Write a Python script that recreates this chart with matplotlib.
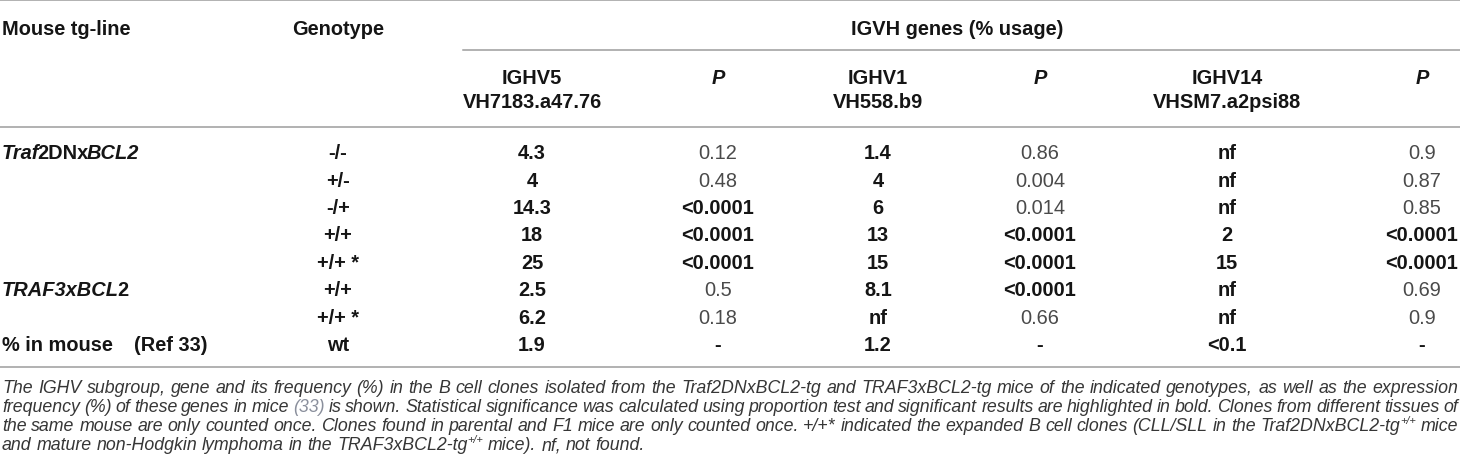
import re
import matplotlib
matplotlib.use("Agg")
import matplotlib.pyplot as plt

# table contents
mouse_lines = ["_Traf_2DNx_BCL2_", "", "", "", "", "_TRAF3xBCL_2", "", "% in mouse"]
genotypes = ["-/-", "+/-", "-/+", "+/+", "+/+ *", "+/+", "+/+ *", "wt"]
ighv5 = ["4.3", "4", "14.3", "18", "25", "2.5", "6.2", "1.9"]
p_ighv5 = ["0.12", "0.48", "<0.0001", "<0.0001", "<0.0001", "0.5", "0.18", "-"]
ighv1 = ["1.4", "4", "6", "13", "15", "8.1", "nf", "1.2"]
p_ighv1 = ["0.86", "0.004", "0.014", "<0.0001", "<0.0001", "<0.0001", "0.66", "-"]
ighv14 = ["nf", "nf", "nf", "2", "15", "nf", "nf", "<0.1"]
p_ighv14 = ["0.9", "0.87", "0.85", "<0.0001", "<0.0001", "0.69", "0.9", "-"]

gene_headers = [("IGHV5", "VH7183.a47.76"), ("IGHV1", "VH558.b9"), ("IGHV14", "VHSM7.a2psi88")]

caption = [
    "The IGHV subgroup, gene and its frequency (%) in the B cell clones isolated from the Traf2DNxBCL2-tg and TRAF3xBCL2-tg mice of the indicated genotypes, as well as the expression",
    "frequency (%) of these genes in mice [(33)] is shown. Statistical significance was calculated using proportion test and significant results are highlighted in bold. Clones from different tissues of",
    "the same mouse are only counted once. Clones found in parental and F1 mice are only counted once. +/+* indicated the expanded B cell clones (CLL/SLL in the Traf2DNxBCL2-tg^{+/+} mice",
    "and mature non-Hodgkin lymphoma in the TRAF3xBCL2-tg^{+/+} mice). nf, not found.",
]

W, H = 1460, 477
FONT = "Liberation Sans"
CAP_FONT = ["Liberation Sans Narrow", "Liberation Sans"]
PT = 72 / 100  # points per pixel at dpi 100
BLACK = "#151515"
LIGHT = "#4a4a4a"
CAP_COLOR = "#363636"

fig = plt.figure(figsize=(W / 100, H / 100), dpi=100)
ax = fig.add_axes([0, 0, 1, 1])
ax.set_xlim(0, W)
ax.set_ylim(H, 0)
ax.axis("off")
renderer = fig.canvas.get_renderer()


def put_runs(x, y, runs, ha="left", family=FONT):
    # runs: (text, size_px, weight, style, color, rise_px)
    objs = []
    cx = x
    for txt, size, weight, style, color, rise in runs:
        t = ax.text(cx, y - rise, txt, fontsize=size * PT, fontweight=weight,
                    fontstyle=style, color=color, family=family, va="baseline", ha="left")
        objs.append(t)
        cx += t.get_window_extent(renderer).width
    total = cx - x
    shift = {"left": 0, "center": -total / 2, "right": -total}[ha]
    for t in objs:
        px, py = t.get_position()
        t.set_position((px + shift, py))
    return objs, total


def base(yc, size=20):
    return yc + 0.36 * size


def cell(x, yc, txt, bold=True, italic=False, ha="center", color=None, size=20):
    c = color or (BLACK if bold else LIGHT)
    put_runs(x, base(yc, size), [(txt, size, "bold" if bold else "normal",
                                  "italic" if italic else "normal", c, 0)], ha=ha)


# horizontal rules
rule = dict(color="#9a9a9a", lw=1.5 * PT)
ax.plot([0, W], [1, 1], **rule)
ax.plot([463, W], [51, 51], **rule)
ax.plot([0, W], [128, 128], **rule)
ax.plot([0, W], [368, 368], **rule)

# headers
cell(2, 28, "Mouse tg-line", ha="left")
geno_x = 338
cell(geno_x, 28, "Genotype")
cell(957, 28, "IGVH genes (% usage)")

gene_x = [532, 878, 1227]
p_x = [718, 1040, 1422]
for gx, px, (h1, h2) in zip(gene_x, p_x, gene_headers):
    cell(gx, 77, h1)
    cell(gx, 101, h2)
    cell(px, 77, "P", italic=True)

# body rows
row0, step = 152, 27.4
for i in range(len(genotypes)):
    yc = row0 + i * step
    lab = mouse_lines[i]
    if lab:
        parts = lab.split("_")
        runs = []
        for k, seg in enumerate(parts):
            if seg:
                runs.append((seg, 20, "bold", "italic" if k % 2 == 1 else "normal", BLACK, 0))
        objs, _ = put_runs(2, base(yc), runs)
        # pull the upright parts in a little; italic boxes carry extra overhang
        for k, t in enumerate(objs[1:], start=1):
            px, py = t.get_position()
            t.set_position((px - 2 * k, py))
    if i == len(genotypes) - 1:
        cell(134, yc, "(Ref 33)", ha="left")
    cell(geno_x, yc, genotypes[i])
    for gx, px, vals, pvals in zip(gene_x, p_x, [ighv5, ighv1, ighv14],
                                   [p_ighv5, p_ighv1, p_ighv14]):
        cell(gx, yc, vals[i])
        pv = pvals[i]
        cell(px, yc, pv, bold=pv.startswith("<") or pv == "-")

# caption, justified to the table width
cap_size = 16
cap_y = [388, 407, 426, 445]
left, right = 2, 1458
token = re.compile(r"\^\{(.*?)\}|\[(.*?)\]|([^\^\[]+)")


def word_runs(word, size):
    runs = []
    for sup, grey, plain in token.findall(word):
        if sup:
            runs.append((sup, size * 0.62, "normal", "italic", CAP_COLOR, size * 0.42))
        elif grey:
            runs.append((grey, size, "normal", "italic", "#8a8f9c", 0))
        else:
            runs.append((plain, size, "normal", "italic", CAP_COLOR, 0))
    return runs


probe = ax.text(0, 0, caption[0], fontsize=cap_size * PT, fontstyle="italic", family=CAP_FONT)
natural = probe.get_window_extent(renderer).width
probe.remove()
cap_size = cap_size * (right - left - 10) / natural

sp = ax.text(0, 0, "a a", fontsize=cap_size * PT, fontstyle="italic", family=CAP_FONT)
sp2 = ax.text(0, 0, "aa", fontsize=cap_size * PT, fontstyle="italic", family=CAP_FONT)
space_w = sp.get_window_extent(renderer).width - sp2.get_window_extent(renderer).width
sp.remove()
sp2.remove()

for j, line in enumerate(caption):
    words = line.split(" ")
    placed = []
    for w in words:
        objs, wd = put_runs(0, base(cap_y[j], 15), word_runs(w, cap_size), family=CAP_FONT)
        placed.append((objs, wd))
    total = sum(wd for _, wd in placed)
    last = j == len(caption) - 1
    gap = space_w if last else (right - left - total) / (len(words) - 1)
    cx = left
    for objs, wd in placed:
        for t in objs:
            px, py = t.get_position()
            t.set_position((px + cx, py))
        cx += wd + gap

fig.savefig("out.png", dpi=100)
